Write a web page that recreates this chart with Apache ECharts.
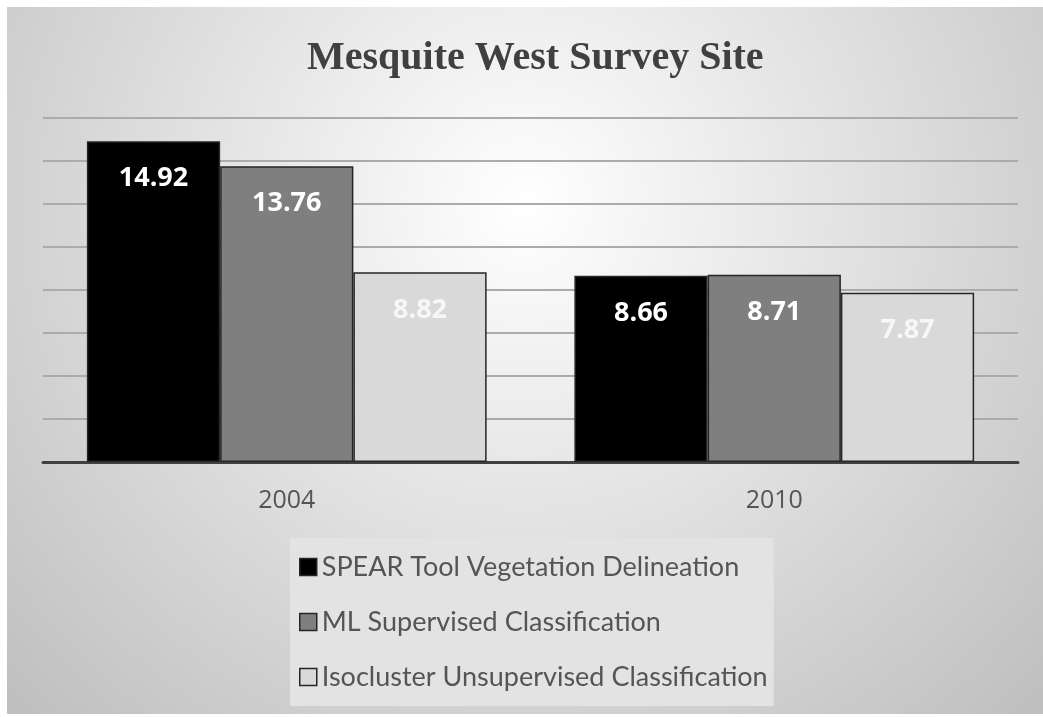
<!DOCTYPE html>
<html>
<head>
    <meta charset="utf-8">
    <title>Mesquite West Survey Site</title>
    <script src="https://cdn.jsdelivr.net/npm/echarts@6/dist/echarts.min.js"></script>
    <style>
        html, body { margin: 0; padding: 0; background: #fff; }
        #main { position: absolute; left: 7px; top: 7px; width: 1036px; height: 707px; }
    </style>
</head>
<body>
    <div id="main"></div>
    <script type="text/javascript">
        // data
        var years = ['2004', '2010'];
        var seriesNames = [
            'SPEAR Tool Vegetation Delineation',
            'ML Supervised Classification',
            'Isocluster Unsupervised Classification'
        ];
        var spearValues = [14.92, 8.66];
        var mlValues = [13.76, 8.71];
        var isoValues = [8.82, 7.87];

        var myChart = echarts.init(document.getElementById('main'));

        function bar(name, values, fill, labelColor) {
            return {
                name: name,
                type: 'bar',
                data: values,
                barGap: '0%',
                barCategoryGap: '18%',
                itemStyle: { color: fill, borderColor: '#262626', borderWidth: 1.5 },
                label: {
                    show: true,
                    position: 'insideTop',
                    distance: 24,
                    color: labelColor,
                    fontFamily: 'Open Sans',
                    fontWeight: 'bold',
                    fontSize: 27
                }
            };
        }

        var option = {
            backgroundColor: {
                type: 'radial', x: 0.5, y: 0.28, r: 1.0,
                colorStops: [
                    { offset: 0, color: '#ffffff' },
                    { offset: 1, color: '#c0c0c0' }
                ]
            },
            animation: false,
            title: {
                text: 'Mesquite West Survey Site',
                left: 295,
                top: 27,
                textStyle: {
                    fontFamily: 'Liberation Serif',
                    fontWeight: 'bold',
                    fontSize: 40,
                    color: '#404040'
                }
            },
            legend: {
                data: seriesNames,
                orient: 'vertical',
                left: 283,
                top: 531,
                itemWidth: 17,
                itemHeight: 17,
                itemGap: 25,
                padding: [14, 6, 14, 9],
                backgroundColor: '#e3e3e3',
                icon: 'rect',
                itemStyle: { borderColor: '#262626', borderWidth: 1.5 },
                textStyle: {
                    fontFamily: 'Lato',
                    fontSize: 27,
                    lineHeight: 30,
                    color: '#555555'
                }
            },
            grid: { left: 36, right: 25, top: 111, bottom: 252 },
            xAxis: {
                type: 'category',
                data: years,
                axisLine: { lineStyle: { color: '#404040', width: 3 } },
                axisTick: { show: false },
                axisLabel: {
                    margin: 26,
                    fontFamily: 'Open Sans',
                    fontSize: 25,
                    color: '#555555'
                }
            },
            yAxis: {
                type: 'value',
                min: 0,
                max: 16,
                interval: 2,
                axisLine: { show: false },
                axisTick: { show: false },
                axisLabel: { show: false },
                splitLine: { lineStyle: { color: '#ababab', width: 2 } }
            },
            series: [
                bar(seriesNames[0], spearValues, '#000000', '#ffffff'),
                bar(seriesNames[1], mlValues, '#7f7f7f', '#ffffff'),
                bar(seriesNames[2], isoValues, '#d9d9d9', '#f7f7f7')
            ]
        };

        myChart.setOption(option);
    </script>
</body>
</html>
